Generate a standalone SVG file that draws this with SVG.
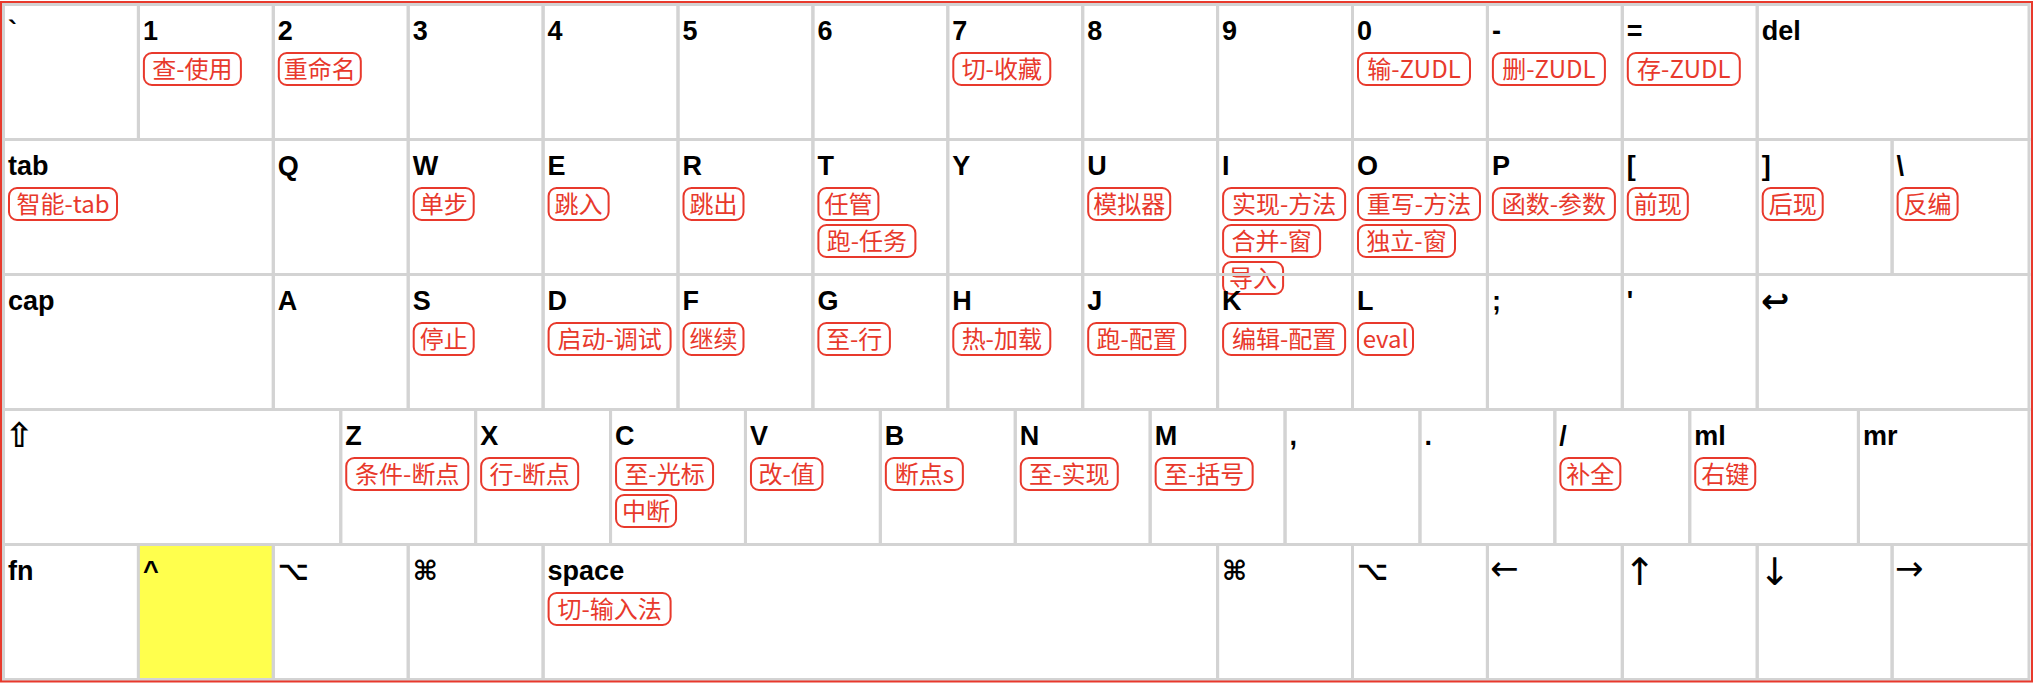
<svg xmlns="http://www.w3.org/2000/svg" width="2034" height="684" viewBox="0 0 2034 684">
<style>
.k{fill:none;stroke:#d3d3d3;stroke-width:3}
.y{fill:#ffff4d}
.l{font-family:"Liberation Sans","DejaVu Sans",sans-serif;font-weight:bold;font-size:27px;fill:#000}
.a{font-family:"DejaVu Sans",sans-serif;font-weight:bold;font-size:34px;fill:#000}
.ah{font-family:"DejaVu Sans",sans-serif;font-size:34px;fill:#000}
.av{font-family:"DejaVu Sans",sans-serif;font-size:38px;fill:#000}
.t{fill:#fff;stroke:#e8392c;stroke-width:2}
.tt{font-family:"Noto Sans CJK SC","Noto Sans",sans-serif;font-size:24px;fill:#e8392c;text-anchor:middle}
</style>
<rect x="0" y="0" width="2034" height="684" fill="#fff"/>
<g id="row1">
<g id="key-backtick"><rect class="k" x="3.5" y="4.5" width="134.9" height="135"/><text class="l" x="8" y="39.5">`</text></g>
<g id="key-1"><rect class="k" x="138.4" y="4.5" width="134.9" height="135"/><text class="l" x="142.9" y="39.5">1</text><rect class="t" x="143.9" y="53" width="97" height="32" rx="8"/><text class="tt" x="192.4" y="77.5">查-使用</text></g>
<g id="key-2"><rect class="k" x="273.3" y="4.5" width="134.9" height="135"/><text class="l" x="277.8" y="39.5">2</text><rect class="t" x="278.8" y="53" width="82" height="32" rx="8"/><text class="tt" x="319.8" y="77.5">重命名</text></g>
<g id="key-3"><rect class="k" x="408.2" y="4.5" width="134.9" height="135"/><text class="l" x="412.7" y="39.5">3</text></g>
<g id="key-4"><rect class="k" x="543.1" y="4.5" width="134.9" height="135"/><text class="l" x="547.6" y="39.5">4</text></g>
<g id="key-5"><rect class="k" x="678" y="4.5" width="134.9" height="135"/><text class="l" x="682.5" y="39.5">5</text></g>
<g id="key-6"><rect class="k" x="812.9" y="4.5" width="134.9" height="135"/><text class="l" x="817.4" y="39.5">6</text></g>
<g id="key-7"><rect class="k" x="947.8" y="4.5" width="134.9" height="135"/><text class="l" x="952.3" y="39.5">7</text><rect class="t" x="953.3" y="53" width="97" height="32" rx="8"/><text class="tt" x="1001.8" y="77.5">切-收藏</text></g>
<g id="key-8"><rect class="k" x="1082.7" y="4.5" width="134.9" height="135"/><text class="l" x="1087.2" y="39.5">8</text></g>
<g id="key-9"><rect class="k" x="1217.6" y="4.5" width="134.9" height="135"/><text class="l" x="1222.1" y="39.5">9</text></g>
<g id="key-0"><rect class="k" x="1352.5" y="4.5" width="134.9" height="135"/><text class="l" x="1357" y="39.5">0</text><rect class="t" x="1358" y="53" width="112" height="32" rx="8"/><text class="tt" x="1414" y="77.5">输-ZUDL</text></g>
<g id="key-minus"><rect class="k" x="1487.4" y="4.5" width="134.9" height="135"/><text class="l" x="1491.9" y="39.5">-</text><rect class="t" x="1492.9" y="53" width="112" height="32" rx="8"/><text class="tt" x="1548.9" y="77.5">删-ZUDL</text></g>
<g id="key-equal"><rect class="k" x="1622.3" y="4.5" width="134.9" height="135"/><text class="l" x="1626.8" y="39.5">=</text><rect class="t" x="1627.8" y="53" width="112" height="32" rx="8"/><text class="tt" x="1683.8" y="77.5">存-ZUDL</text></g>
<g id="key-del"><rect class="k" x="1757.2" y="4.5" width="271.8" height="135"/><text class="l" x="1761.7" y="39.5">del</text></g>
</g>
<g id="row2">
<g id="key-tab"><rect class="k" x="3.5" y="139.5" width="269.8" height="135"/><text class="l" x="8" y="174.5">tab</text><rect class="t" x="9" y="188" width="108" height="32" rx="8"/><text class="tt" x="63" y="212.5">智能-tab</text></g>
<g id="key-q"><rect class="k" x="273.3" y="139.5" width="134.9" height="135"/><text class="l" x="277.8" y="174.5">Q</text></g>
<g id="key-w"><rect class="k" x="408.2" y="139.5" width="134.9" height="135"/><text class="l" x="412.7" y="174.5">W</text><rect class="t" x="413.7" y="188" width="60" height="32" rx="8"/><text class="tt" x="443.7" y="212.5">单步</text></g>
<g id="key-e"><rect class="k" x="543.1" y="139.5" width="134.9" height="135"/><text class="l" x="547.6" y="174.5">E</text><rect class="t" x="548.6" y="188" width="60" height="32" rx="8"/><text class="tt" x="578.6" y="212.5">跳入</text></g>
<g id="key-r"><rect class="k" x="678" y="139.5" width="134.9" height="135"/><text class="l" x="682.5" y="174.5">R</text><rect class="t" x="683.5" y="188" width="60" height="32" rx="8"/><text class="tt" x="713.5" y="212.5">跳出</text></g>
<g id="key-t"><rect class="k" x="812.9" y="139.5" width="134.9" height="135"/><text class="l" x="817.4" y="174.5">T</text><rect class="t" x="818.4" y="188" width="60" height="32" rx="8"/><text class="tt" x="848.4" y="212.5">任管</text><rect class="t" x="818.4" y="225" width="97" height="32" rx="8"/><text class="tt" x="866.9" y="249.5">跑-任务</text></g>
<g id="key-y"><rect class="k" x="947.8" y="139.5" width="134.9" height="135"/><text class="l" x="952.3" y="174.5">Y</text></g>
<g id="key-u"><rect class="k" x="1082.7" y="139.5" width="134.9" height="135"/><text class="l" x="1087.2" y="174.5">U</text><rect class="t" x="1088.2" y="188" width="82" height="32" rx="8"/><text class="tt" x="1129.2" y="212.5">模拟器</text></g>
<g id="key-i"><rect class="k" x="1217.6" y="139.5" width="134.9" height="135"/><text class="l" x="1222.1" y="174.5">I</text><rect class="t" x="1223.1" y="188" width="122" height="32" rx="8"/><text class="tt" x="1284.1" y="212.5">实现-方法</text><rect class="t" x="1223.1" y="225" width="97" height="32" rx="8"/><text class="tt" x="1271.6" y="249.5">合并-窗</text><rect class="t" x="1223.1" y="262" width="60" height="32" rx="8"/><text class="tt" x="1253.1" y="286.5">导入</text></g>
<g id="key-o"><rect class="k" x="1352.5" y="139.5" width="134.9" height="135"/><text class="l" x="1357" y="174.5">O</text><rect class="t" x="1358" y="188" width="122" height="32" rx="8"/><text class="tt" x="1419" y="212.5">重写-方法</text><rect class="t" x="1358" y="225" width="97" height="32" rx="8"/><text class="tt" x="1406.5" y="249.5">独立-窗</text></g>
<g id="key-p"><rect class="k" x="1487.4" y="139.5" width="134.9" height="135"/><text class="l" x="1491.9" y="174.5">P</text><rect class="t" x="1492.9" y="188" width="122" height="32" rx="8"/><text class="tt" x="1553.9" y="212.5">函数-参数</text></g>
<g id="key-lbracket"><rect class="k" x="1622.3" y="139.5" width="134.9" height="135"/><text class="l" x="1626.8" y="174.5">[</text><rect class="t" x="1627.8" y="188" width="60" height="32" rx="8"/><text class="tt" x="1657.8" y="212.5">前现</text></g>
<g id="key-rbracket"><rect class="k" x="1757.2" y="139.5" width="134.9" height="135"/><text class="l" x="1761.7" y="174.5">]</text><rect class="t" x="1762.7" y="188" width="60" height="32" rx="8"/><text class="tt" x="1792.7" y="212.5">后现</text></g>
<g id="key-backslash"><rect class="k" x="1892.1" y="139.5" width="136.9" height="135"/><text class="l" x="1896.6" y="174.5">\</text><rect class="t" x="1897.6" y="188" width="60" height="32" rx="8"/><text class="tt" x="1927.6" y="212.5">反编</text></g>
</g>
<g id="row3">
<g id="key-cap"><rect class="k" x="3.5" y="274.5" width="269.8" height="135"/><text class="l" x="8" y="309.5">cap</text></g>
<g id="key-a"><rect class="k" x="273.3" y="274.5" width="134.9" height="135"/><text class="l" x="277.8" y="309.5">A</text></g>
<g id="key-s"><rect class="k" x="408.2" y="274.5" width="134.9" height="135"/><text class="l" x="412.7" y="309.5">S</text><rect class="t" x="413.7" y="323" width="60" height="32" rx="8"/><text class="tt" x="443.7" y="347.5">停止</text></g>
<g id="key-d"><rect class="k" x="543.1" y="274.5" width="134.9" height="135"/><text class="l" x="547.6" y="309.5">D</text><rect class="t" x="548.6" y="323" width="122" height="32" rx="8"/><text class="tt" x="609.6" y="347.5">启动-调试</text></g>
<g id="key-f"><rect class="k" x="678" y="274.5" width="134.9" height="135"/><text class="l" x="682.5" y="309.5">F</text><rect class="t" x="683.5" y="323" width="60" height="32" rx="8"/><text class="tt" x="713.5" y="347.5">继续</text></g>
<g id="key-g"><rect class="k" x="812.9" y="274.5" width="134.9" height="135"/><text class="l" x="817.4" y="309.5">G</text><rect class="t" x="818.4" y="323" width="71.5" height="32" rx="8"/><text class="tt" x="854.15" y="347.5">至-行</text></g>
<g id="key-h"><rect class="k" x="947.8" y="274.5" width="134.9" height="135"/><text class="l" x="952.3" y="309.5">H</text><rect class="t" x="953.3" y="323" width="97" height="32" rx="8"/><text class="tt" x="1001.8" y="347.5">热-加载</text></g>
<g id="key-j"><rect class="k" x="1082.7" y="274.5" width="134.9" height="135"/><text class="l" x="1087.2" y="309.5">J</text><rect class="t" x="1088.2" y="323" width="97" height="32" rx="8"/><text class="tt" x="1136.7" y="347.5">跑-配置</text></g>
<g id="key-k"><rect class="k" x="1217.6" y="274.5" width="134.9" height="135"/><text class="l" x="1222.1" y="309.5">K</text><rect class="t" x="1223.1" y="323" width="122" height="32" rx="8"/><text class="tt" x="1284.1" y="347.5">编辑-配置</text></g>
<g id="key-l"><rect class="k" x="1352.5" y="274.5" width="134.9" height="135"/><text class="l" x="1357" y="309.5">L</text><rect class="t" x="1358" y="323" width="55" height="32" rx="8"/><text class="tt" x="1385.5" y="347.5">eval</text></g>
<g id="key-semicolon"><rect class="k" x="1487.4" y="274.5" width="134.9" height="135"/><text class="l" x="1491.9" y="309.5">;</text></g>
<g id="key-quote"><rect class="k" x="1622.3" y="274.5" width="134.9" height="135"/><text class="l" x="1626.8" y="309.5">'</text></g>
<g id="key-return"><rect class="k" x="1757.2" y="274.5" width="271.8" height="135"/><text class="a" x="1761" y="313">↩</text></g>
</g>
<g id="row4">
<g id="key-lshift"><rect class="k" x="3.5" y="409.5" width="337.25" height="135"/><text class="a" x="5" y="447">⇧</text></g>
<g id="key-z"><rect class="k" x="340.75" y="409.5" width="134.9" height="135"/><text class="l" x="345.25" y="444.5">Z</text><rect class="t" x="346.25" y="458" width="122" height="32" rx="8"/><text class="tt" x="407.25" y="482.5">条件-断点</text></g>
<g id="key-x"><rect class="k" x="475.65" y="409.5" width="134.9" height="135"/><text class="l" x="480.15" y="444.5">X</text><rect class="t" x="481.15" y="458" width="97" height="32" rx="8"/><text class="tt" x="529.65" y="482.5">行-断点</text></g>
<g id="key-c"><rect class="k" x="610.55" y="409.5" width="134.9" height="135"/><text class="l" x="615.05" y="444.5">C</text><rect class="t" x="616.05" y="458" width="97" height="32" rx="8"/><text class="tt" x="664.55" y="482.5">至-光标</text><rect class="t" x="616.05" y="495" width="60" height="32" rx="8"/><text class="tt" x="646.05" y="519.5">中断</text></g>
<g id="key-v"><rect class="k" x="745.45" y="409.5" width="134.9" height="135"/><text class="l" x="749.95" y="444.5">V</text><rect class="t" x="750.95" y="458" width="71.5" height="32" rx="8"/><text class="tt" x="786.7" y="482.5">改-值</text></g>
<g id="key-b"><rect class="k" x="880.35" y="409.5" width="134.9" height="135"/><text class="l" x="884.85" y="444.5">B</text><rect class="t" x="885.85" y="458" width="77" height="32" rx="8"/><text class="tt" x="924.35" y="482.5">断点s</text></g>
<g id="key-n"><rect class="k" x="1015.25" y="409.5" width="134.9" height="135"/><text class="l" x="1019.75" y="444.5">N</text><rect class="t" x="1020.75" y="458" width="97" height="32" rx="8"/><text class="tt" x="1069.25" y="482.5">至-实现</text></g>
<g id="key-m"><rect class="k" x="1150.15" y="409.5" width="134.9" height="135"/><text class="l" x="1154.65" y="444.5">M</text><rect class="t" x="1155.65" y="458" width="97" height="32" rx="8"/><text class="tt" x="1204.15" y="482.5">至-括号</text></g>
<g id="key-comma"><rect class="k" x="1285.05" y="409.5" width="134.9" height="135"/><text class="l" x="1289.55" y="444.5">,</text></g>
<g id="key-period"><rect class="k" x="1419.95" y="409.5" width="134.9" height="135"/><text class="l" x="1424.45" y="444.5">.</text></g>
<g id="key-slash"><rect class="k" x="1554.85" y="409.5" width="134.9" height="135"/><text class="l" x="1559.35" y="444.5">/</text><rect class="t" x="1560.35" y="458" width="60" height="32" rx="8"/><text class="tt" x="1590.35" y="482.5">补全</text></g>
<g id="key-ml"><rect class="k" x="1689.75" y="409.5" width="168.65" height="135"/><text class="l" x="1694.25" y="444.5">ml</text><rect class="t" x="1695.25" y="458" width="60" height="32" rx="8"/><text class="tt" x="1725.25" y="482.5">右键</text></g>
<g id="key-mr"><rect class="k" x="1858.4" y="409.5" width="170.6" height="135"/><text class="l" x="1862.9" y="444.5">mr</text></g>
</g>
<g id="row5">
<g id="key-fn"><rect class="k" x="3.5" y="544.5" width="134.9" height="135"/><text class="l" x="8" y="579.5">fn</text></g>
<g id="key-ctrl"><rect class="k y" x="138.4" y="544.5" width="134.9" height="135"/><text class="l" x="142.9" y="579.5">^</text></g>
<g id="key-lalt"><rect class="k" x="273.3" y="544.5" width="134.9" height="135"/><text class="l" x="277.8" y="579.5">⌥</text></g>
<g id="key-lcmd"><rect class="k" x="408.2" y="544.5" width="134.9" height="135"/><text class="l" x="412.7" y="579.5">⌘</text></g>
<g id="key-space"><rect class="k" x="543.1" y="544.5" width="674.5" height="135"/><text class="l" x="547.6" y="579.5">space</text><rect class="t" x="548.6" y="593" width="122" height="32" rx="8"/><text class="tt" x="609.6" y="617.5">切-输入法</text></g>
<g id="key-rcmd"><rect class="k" x="1217.6" y="544.5" width="134.9" height="135"/><text class="l" x="1222.1" y="579.5">⌘</text></g>
<g id="key-ralt"><rect class="k" x="1352.5" y="544.5" width="134.9" height="135"/><text class="l" x="1357" y="579.5">⌥</text></g>
<g id="key-left"><rect class="k" x="1487.4" y="544.5" width="134.9" height="135"/><text class="ah" x="1490" y="580">←</text></g>
<g id="key-up"><rect class="k" x="1622.3" y="544.5" width="134.9" height="135"/><text class="av" x="1624" y="585">↑</text></g>
<g id="key-down"><rect class="k" x="1757.2" y="544.5" width="134.9" height="135"/><text class="av" x="1759" y="585">↓</text></g>
<g id="key-right"><rect class="k" x="1892.1" y="544.5" width="136.9" height="135"/><text class="ah" x="1895" y="580">→</text></g>
</g>
<rect x="1" y="2" width="2031" height="679.5" fill="none" stroke="#e8392c" stroke-width="2"/>
</svg>
